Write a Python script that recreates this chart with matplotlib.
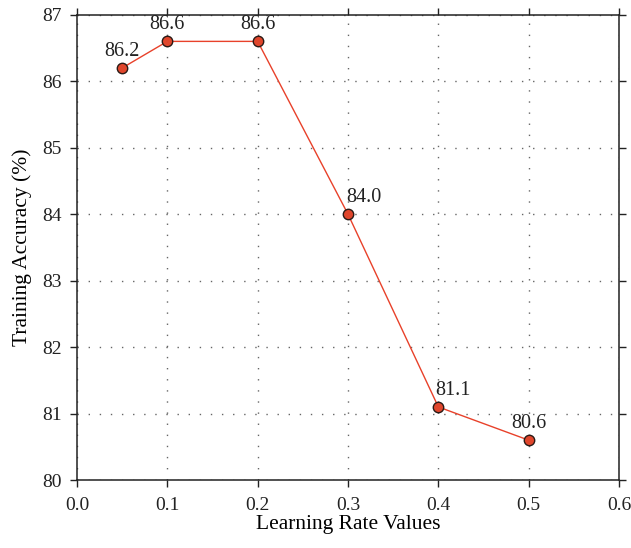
from matplotlib import pyplot as plt

# data
learning_rate = [0.05, 0.1, 0.2, 0.3, 0.4, 0.5]
accuracy = [86.2, 86.6, 86.6, 84.0, 81.1, 80.6]
x_ticks = [0.0, 0.1, 0.2, 0.3, 0.4, 0.5, 0.6]
y_ticks = [80, 81, 82, 83, 84, 85, 86, 87]

# label alignment (two labels sit right of the falling line)
label_ha = ['center', 'center', 'center', 'left', 'left', 'center']
label_dx = [0, 0, 0, -1, -2, 0]

plt.rcParams['font.family'] = ['Liberation Serif', 'DejaVu Serif']
plt.rcParams['font.size'] = 14

fig = plt.figure(figsize=[6.31, 5.48], dpi=100)
ax = fig.add_axes([0.122, 0.124, 0.859, 0.849])

ax.plot(learning_rate, accuracy, color='#e8412a', lw=1.0,
        marker='o', ms=7.5, mfc='#e0462c', mec='#2a1a16', mew=1.0, zorder=3)

for x, y, ha, dx in zip(learning_rate, accuracy, label_ha, label_dx):
    ax.annotate('%.1f' % y, (x, y), xytext=(dx, 5), textcoords='offset points',
                ha=ha, va='bottom', fontsize=14.5, color='#222222')

ax.set_xlim(0, 0.6)
ax.set_ylim(80, 87)
ax.set_xticks(x_ticks)
ax.set_yticks(y_ticks)
ax.set_xticklabels(['%.1f' % t for t in x_ticks])

ax.grid(True, linestyle=(0, (1, 7)), color='#666666', lw=1.0)
ax.tick_params(direction='out', length=5, width=1, top=True, right=True,
               labeltop=False, labelright=False, colors='#222222', pad=6)
ax.tick_params(axis='x', pad=7)
for s in ax.spines.values():
    s.set_color('#222222')
    s.set_linewidth(1.1)

ax.set_xlabel('Learning Rate Values', fontsize=15.5, labelpad=1)
ax.set_ylabel('Training Accuracy (%)', fontsize=15.5, labelpad=7)

plt.savefig('out.png')
